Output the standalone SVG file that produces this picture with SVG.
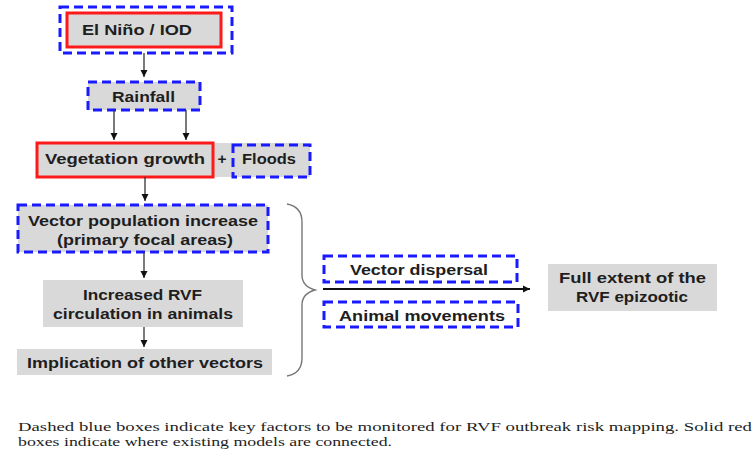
<svg xmlns="http://www.w3.org/2000/svg" width="755" height="454" viewBox="0 0 755 454">
<defs>
<marker id="ah" markerWidth="8" markerHeight="8" refX="7" refY="4" orient="auto" markerUnits="userSpaceOnUse">
<path d="M0,0.5 L7,4 L0,7.5 Z" fill="#111"/>
</marker>
<style>
.bg{fill:#d9d9d9}
.blue{fill:none;stroke:#1a1aff;stroke-width:3;stroke-dasharray:9,5}
.red{fill:none;stroke:#ff1a1a;stroke-width:3}
.t{font-family:"Liberation Sans",Arial,sans-serif;font-weight:700;font-size:15.5px;fill:#1e1e1e;text-anchor:middle}
.c{font-family:"Liberation Serif","Times New Roman",serif;font-size:13px;fill:#1e1e1e}
.ln{stroke:#333;stroke-width:1.3;fill:none;marker-end:url(#ah)}
</style>
</defs>
<rect width="755" height="454" fill="#fff"/>

<g id="elnino">
<rect class="bg" x="67" y="13" width="154" height="34"/>
<rect class="red" x="67" y="13" width="154" height="34"/>
<rect class="blue" x="60" y="7" width="172" height="46"/>
<text class="t" x="137" y="35" textLength="110" lengthAdjust="spacingAndGlyphs">El Niño / IOD</text>
</g>

<g id="rainfall">
<rect class="bg" x="88" y="82" width="112" height="28"/>
<rect class="blue" x="88" y="82" width="112" height="28"/>
<text class="t" x="143.5" y="102" textLength="63" lengthAdjust="spacingAndGlyphs">Rainfall</text>
</g>

<g id="vegetation">
<rect class="bg" x="37" y="143" width="273" height="34"/>
<rect class="red" x="37" y="143" width="176" height="34"/>
<text class="t" x="125" y="164" textLength="160" lengthAdjust="spacingAndGlyphs">Vegetation growth</text>
<text class="t" x="222" y="164">+</text>
</g>

<g id="floods">
<rect class="blue" x="233" y="145" width="77" height="32"/>
<text class="t" x="269" y="164" textLength="54" lengthAdjust="spacingAndGlyphs">Floods</text>
</g>

<g id="vectorpop">
<rect class="bg" x="18" y="205" width="250" height="47"/>
<rect class="blue" x="18" y="205" width="250" height="47"/>
<text class="t" x="143" y="226" textLength="230" lengthAdjust="spacingAndGlyphs">Vector population increase</text>
<text class="t" x="145" y="245" textLength="176" lengthAdjust="spacingAndGlyphs">(primary focal areas)</text>
</g>

<g id="increased">
<rect class="bg" x="43" y="280" width="200" height="47"/>
<text class="t" x="142.5" y="300" textLength="119" lengthAdjust="spacingAndGlyphs">Increased RVF</text>
<text class="t" x="143" y="319" textLength="180" lengthAdjust="spacingAndGlyphs">circulation in animals</text>
</g>

<g id="implication">
<rect class="bg" x="17" y="349" width="255" height="26"/>
<text class="t" x="145" y="368" textLength="236" lengthAdjust="spacingAndGlyphs">Implication of other vectors</text>
</g>

<g id="dispersal">
<rect class="blue" x="324" y="256" width="193" height="26"/>
<text class="t" x="419" y="275" textLength="138" lengthAdjust="spacingAndGlyphs">Vector dispersal</text>
</g>

<g id="movements">
<rect class="blue" x="324" y="302" width="194" height="25"/>
<text class="t" x="422" y="321" textLength="166" lengthAdjust="spacingAndGlyphs">Animal movements</text>
</g>

<g id="fullextent">
<rect class="bg" x="548" y="264" width="169" height="47"/>
<text class="t" x="632.5" y="283" textLength="147" lengthAdjust="spacingAndGlyphs">Full extent of the</text>
<text class="t" x="632" y="302" textLength="112" lengthAdjust="spacingAndGlyphs">RVF epizootic</text>
</g>

<g id="connectors">
<line class="ln" x1="144" y1="53" x2="144" y2="77"/>
<line class="ln" x1="114" y1="110" x2="114" y2="140"/>
<line class="ln" x1="186" y1="110" x2="186" y2="140"/>
<line class="ln" x1="145" y1="177" x2="145" y2="201"/>
<line class="ln" x1="144" y1="252" x2="144" y2="278"/>
<line class="ln" x1="144" y1="327" x2="144" y2="347"/>
<path d="M287,204 C298,206 302,212 302,222 L302,275 C302,284 308,288 315,290 C308,292 302,296 302,305 L302,358 C302,368 298,374 287,376" fill="none" stroke="#777" stroke-width="1.4"/>
<line x1="323" y1="289" x2="530" y2="289" stroke="#111" stroke-width="2.2" marker-end="url(#ah)"/>
</g>

<g id="caption">
<text class="c" x="18" y="431" textLength="734" lengthAdjust="spacingAndGlyphs">Dashed blue boxes indicate key factors to be monitored for RVF outbreak risk mapping. Solid red</text>
<text class="c" x="18" y="446" textLength="374" lengthAdjust="spacingAndGlyphs">boxes indicate where existing models are connected.</text>
</g>
</svg>
